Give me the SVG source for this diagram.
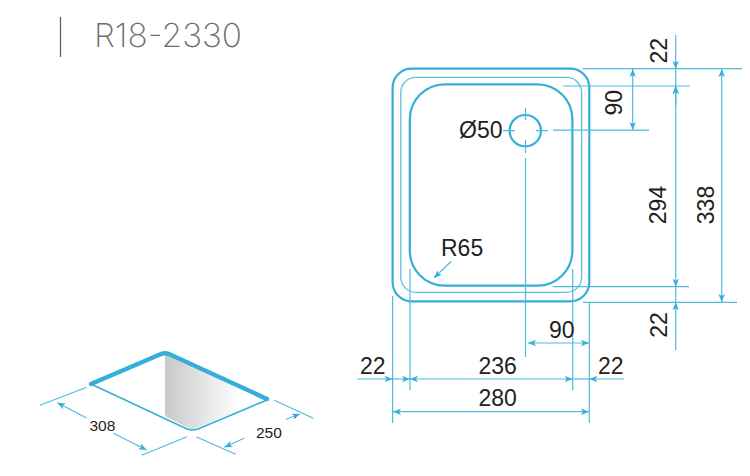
<svg xmlns="http://www.w3.org/2000/svg" width="750" height="476" viewBox="0 0 750 476">
<style>
text{font-family:"Liberation Sans",Arial,sans-serif;fill:#231f20}
.d{font-size:23px}
.s{font-size:15.500px}
.c{text-anchor:middle}
.o{fill:none;stroke:#35aed8;stroke-width:2.200}
.m{fill:none;stroke:#5cc1e2;stroke-width:1.300}
.l{fill:none;stroke:#4fbbdf;stroke-width:1.200}
.a{fill:none;stroke:#4fbbdf;stroke-width:1.200;marker-start:url(#h);marker-end:url(#h)}
.e{fill:none;stroke:#4fbbdf;stroke-width:1.200;marker-end:url(#h)}
</style>
<defs>
<marker id="h" viewBox="0 0 10 8" refX="10" refY="4" markerUnits="userSpaceOnUse" markerWidth="8" markerHeight="7" orient="auto-start-reverse"><path d="M0 0L10 4L0 8L2.500 4Z" fill="#35aed8"/></marker>
<linearGradient id="g" gradientUnits="userSpaceOnUse" x1="165" y1="390" x2="240" y2="390"><stop offset="0" stop-color="#c9c9c9"/><stop offset="1" stop-color="#fff"/></linearGradient>
</defs>
<g id="title"><path d="M60.500 17V57" stroke="#58595b" stroke-width="1.200" fill="none"/><text x="94" y="46.500" font-size="33" textLength="148" lengthAdjust="spacingAndGlyphs" style="font-family:Inter,sans-serif;font-weight:200;fill:#6d6e71">R18-2330</text></g>
<g id="sink-outline">
<rect class="o" x="392.600" y="68.700" width="196.700" height="232.600" rx="19"/>
<rect class="m" x="400.800" y="77.300" width="180.800" height="215" rx="15"/>
<rect class="o" x="409.800" y="84.300" width="162.600" height="201.400" rx="35"/>
</g>
<g id="drain"><circle class="o" cx="525.300" cy="130.700" r="15.700"/></g>
<g id="iso-view">
<path d="M165 354L262 400L192 430L165 416Z" fill="url(#g)"/>
<path d="M91 384L187 429Q192 431 198 429L267 400" fill="none" stroke="#35aed8" stroke-width="1.600"/>
<path d="M91 384L161 354Q165 352.500 169 354L267 399" fill="none" stroke="#35aed8" stroke-width="4.400" stroke-linecap="round"/>
</g>
<g id="connectors">
<path class="l" d="M503 130.700H515M535.700 130.700H548M553 130.200H649M525.500 108V120M525.500 140V153M525.500 158V357"/>
<path class="l" d="M582.500 68.700H742M563 86H690M553 286.700H689M583 302.300H737"/>
<path class="l" d="M392.600 296V423M410 269V390M572.700 269V390M589.300 302V423"/>
<path class="a" d="M632.700 69V130"/>
<path class="a" d="M721.700 69V302"/>
<path class="e" d="M675.700 35V68.700"/>
<path class="e" d="M675.700 105V86"/>
<path class="l" d="M675.700 68.700V105"/>
<path class="a" d="M675.700 86V286.700"/>
<path class="e" d="M675.700 350V302.300"/>
<path class="l" d="M675.700 286.700V302.300"/>
<path class="a" d="M528 343H589"/>
<path class="e" d="M357 379H392.600"/>
<path class="e" d="M392.600 379H410"/>
<path class="a" d="M410 379H572.700"/>
<path class="e" d="M624 379H589.300"/>
<path class="l" d="M572.700 379H589.300"/>
<path class="a" d="M393 411.700H589"/>
<path class="e" d="M451.300 261.300L434 278"/>
<path class="l" d="M86.700 387.300L40 405.300M187 436.700L141.700 455.300M274.300 400.300L313.300 418.300M196.700 437L235.700 454.300"/>
<path class="e" d="M86.700 418L57.300 402.700"/>
<path class="e" d="M113.300 433.300L146.700 450"/>
<path class="e" d="M244 438.300L224.300 447.300"/>
<path class="e" d="M286 419.300L300 414"/>
</g>
<g id="labels">
<text class="d" x="459" y="137.500">Ø50</text>
<text class="d" x="441" y="256">R65</text>
<text class="d c" x="561.700" y="337.500">90</text>
<text class="d c" x="372.700" y="373.500">22</text>
<text class="d c" x="497.700" y="373.500">236</text>
<text class="d c" x="610.700" y="373.500">22</text>
<text class="d c" x="497.700" y="405.500">280</text>
<text class="d c" transform="translate(667 50.700) rotate(-90)">22</text>
<text class="d c" transform="translate(621.700 102.700) rotate(-90)">90</text>
<text class="d c" transform="translate(666 205) rotate(-90)">294</text>
<text class="d c" transform="translate(714 205) rotate(-90)">338</text>
<text class="d c" transform="translate(667 325) rotate(-90)">22</text>
<text class="s" x="89.500" y="430.500">308</text>
<text class="s" x="256" y="437.500">250</text>
</g>
</svg>
